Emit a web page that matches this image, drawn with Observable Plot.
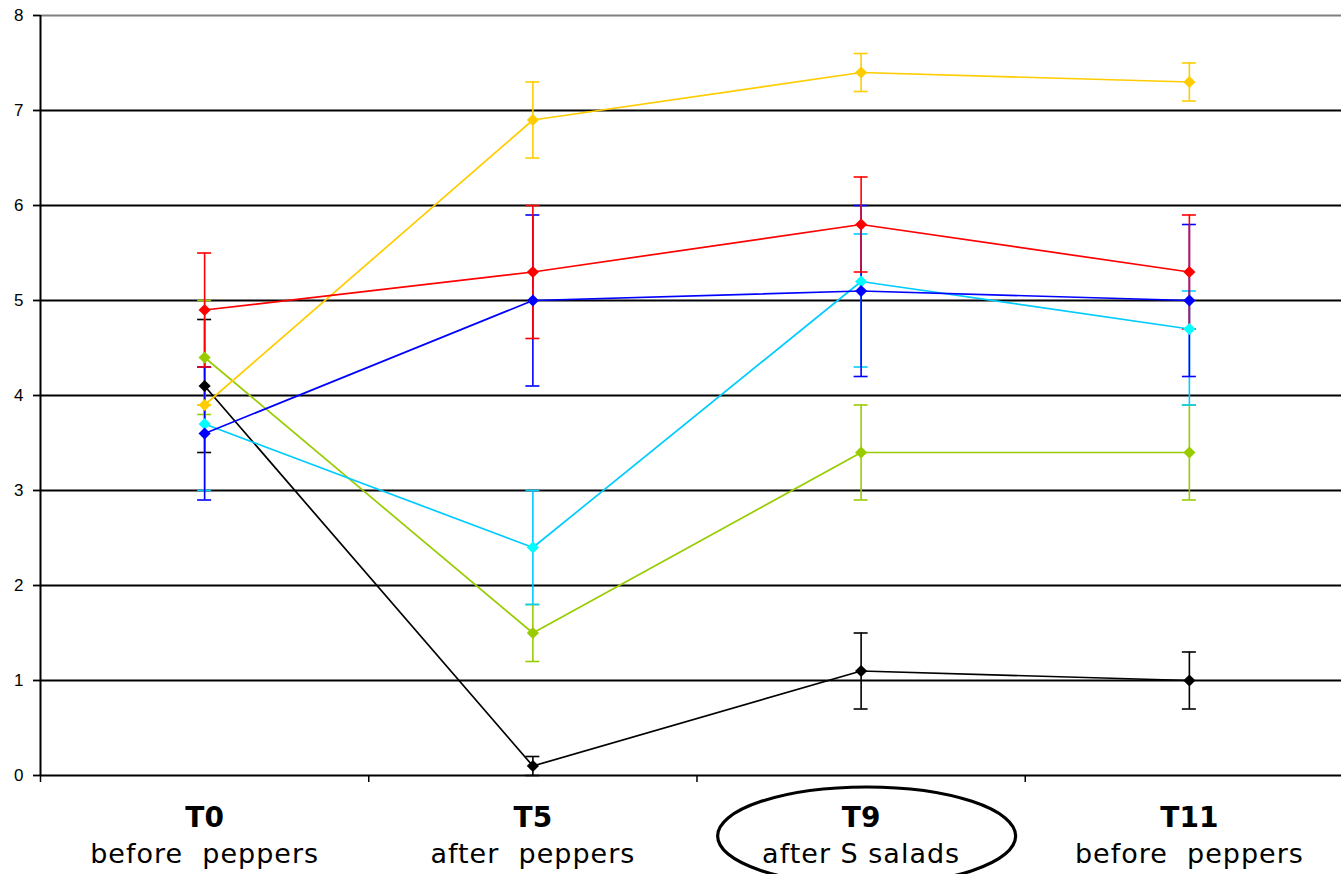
<!DOCTYPE html>
<html>
<head>
<meta charset="utf-8">
<script src="https://cdn.jsdelivr.net/npm/d3@7"></script>
<script src="https://cdn.jsdelivr.net/npm/@observablehq/plot@0.6"></script>
<style>
  html, body { margin: 0; padding: 0; background: #fff; overflow: hidden; }
  #chart svg { display: block; overflow: visible; }
</style>
</head>
<body>
<div id="chart"></div>
<script>
const categories = ["T0", "T5", "T9", "T11"];
const subtitles = ["before  peppers", "after  peppers", "after S salads", "before  peppers"];
const yTicks = [0, 1, 2, 3, 4, 5, 6, 7, 8];

const seriesNames = ["black", "green", "cyan", "blue", "orange", "red"];
const lineColors = {black: "#000000", green: "#99CC00", cyan: "#00CCFF", blue: "#0000FF", orange: "#FFCC00", red: "#FF0000"};
const markColors = {black: "#000000", green: "#99CC00", cyan: "#00FFFF", blue: "#0000FF", orange: "#FFCC00", red: "#FF0000"};

const redMean = [4.9, 5.3, 5.8, 5.3];
const redLow = [4.3, 4.6, 5.3, 4.7];
const redHigh = [5.5, 6.0, 6.3, 5.9];

const orangeMean = [3.9, 6.9, 7.4, 7.3];
const orangeLow = [3.9, 6.5, 7.2, 7.1];
const orangeHigh = [3.9, 7.3, 7.6, 7.5];

const blueMean = [3.6, 5.0, 5.1, 5.0];
const blueLow = [2.9, 4.1, 4.2, 4.2];
const blueHigh = [4.3, 5.9, 6.0, 5.8];

const cyanMean = [3.7, 2.4, 5.2, 4.7];
const cyanLow = [3.0, 1.8, 4.3, 3.9];
const cyanHigh = [4.3, 3.0, 5.7, 5.1];

const greenMean = [4.4, 1.5, 3.4, 3.4];
const greenLow = [3.8, 1.2, 2.9, 2.9];
const greenHigh = [5.0, 1.8, 3.9, 3.9];

const blackMean = [4.1, 0.1, 1.1, 1.0];
const blackLow = [3.4, 0.0, 0.7, 0.7];
const blackHigh = [4.8, 0.2, 1.5, 1.3];

const raw = {
  black: [blackMean, blackLow, blackHigh],
  green: [greenMean, greenLow, greenHigh],
  cyan: [cyanMean, cyanLow, cyanHigh],
  blue: [blueMean, blueLow, blueHigh],
  orange: [orangeMean, orangeLow, orangeHigh],
  red: [redMean, redLow, redHigh]
};

const rows = [];
for (const s of seriesNames) {
  const [m, lo, hi] = raw[s];
  categories.forEach((c, i) => rows.push({series: s, cat: c, x: i + 0.5, mean: m[i], low: lo[i], high: hi[i]}));
}
const catRows = categories.map((c, i) => ({cat: c, sub: subtitles[i], x: i + 0.5}));
const bounds = d3.range(categories.length + 1);
const tickRows = yTicks.map(v => ({v, x: 0, label: String(v)}));

const marks = [
  Plot.ruleY(yTicks.filter(v => v > 0 && v < 8), {stroke: "#000", strokeWidth: 1.8}),
  Plot.ruleY([8], {stroke: "#808080", strokeWidth: 1.8}),
  Plot.ruleX([0], {y1: 0, y2: 8, stroke: "#000", strokeWidth: 2}),
  Plot.ruleY([0], {stroke: "#000", strokeWidth: 2}),
  // y ticks and labels
  Plot.ruleY(tickRows, {y: "v", x1: "x", x2: "x", insetLeft: -7, stroke: "#000", strokeWidth: 1.8}),
  Plot.text(tickRows, {x: "x", y: "v", text: "label", dx: -17, textAnchor: "end", fontSize: 17, fontFamily: "Liberation Sans, Arial, sans-serif", fill: "#000"}),
  // x boundary ticks
  Plot.ruleX(bounds, {x: d => d, y1: 0, y2: 0, insetTop: 7, stroke: "#000", strokeWidth: 1.5}),
];

// error bars
for (const s of seriesNames) {
  const data = rows.filter(r => r.series === s);
  marks.push(
    Plot.ruleX(data, {x: "x", y1: "low", y2: "high", stroke: lineColors[s], strokeWidth: 1.6}),
    Plot.ruleY(data, {y: "low", x1: "x", x2: "x", insetLeft: -7, insetRight: -7, stroke: lineColors[s], strokeWidth: 1.6}),
    Plot.ruleY(data, {y: "high", x1: "x", x2: "x", insetLeft: -7, insetRight: -7, stroke: lineColors[s], strokeWidth: 1.6})
  );
}
// lines
for (const s of seriesNames) {
  const data = rows.filter(r => r.series === s);
  marks.push(Plot.line(data, {x: "x", y: "mean", stroke: lineColors[s], strokeWidth: 1.7}));
}
// markers
for (const s of seriesNames) {
  const data = rows.filter(r => r.series === s);
  marks.push(Plot.dot(data, {x: "x", y: "mean", symbol: "diamond2", r: 5.5, fill: markColors[s], stroke: "none"}));
}
// category labels
marks.push(
  Plot.text(catRows, {x: "x", text: "cat", frameAnchor: "bottom", lineAnchor: "bottom", dy: 51, fontSize: 28, fontWeight: "bold", fontFamily: "DejaVu Sans, sans-serif", fill: "#000"}),
  Plot.text(catRows, {x: "x", text: "sub", frameAnchor: "bottom", lineAnchor: "bottom", dy: 87, fontSize: 27, fontFamily: "DejaVu Sans, sans-serif", fill: "#000"})
);

const chart = Plot.plot({
  width: 1341,
  height: 874,
  marginLeft: 40,
  marginRight: 0,
  marginTop: 15,
  marginBottom: 99,
  style: {background: "#fff", overflow: "visible"},
  x: {domain: [0, categories.length], range: [40, 1353], axis: null},
  y: {domain: [0, 8], axis: null},
  marks
});

d3.select(chart).selectAll("text")
  .filter(function() { return /peppers|salads/.test(this.textContent); })
  .style("letter-spacing", "1px");

// ellipse annotation around T9 label
const xs = chart.scale("x");
const cx = xs.apply(2.5) + 6;
d3.select(chart).append("ellipse")
  .attr("cx", cx).attr("cy", 836).attr("rx", 149).attr("ry", 49)
  .attr("fill", "none").attr("stroke", "#000").attr("stroke-width", 3.2);

document.getElementById("chart").append(chart);
</script>
</body>
</html>
